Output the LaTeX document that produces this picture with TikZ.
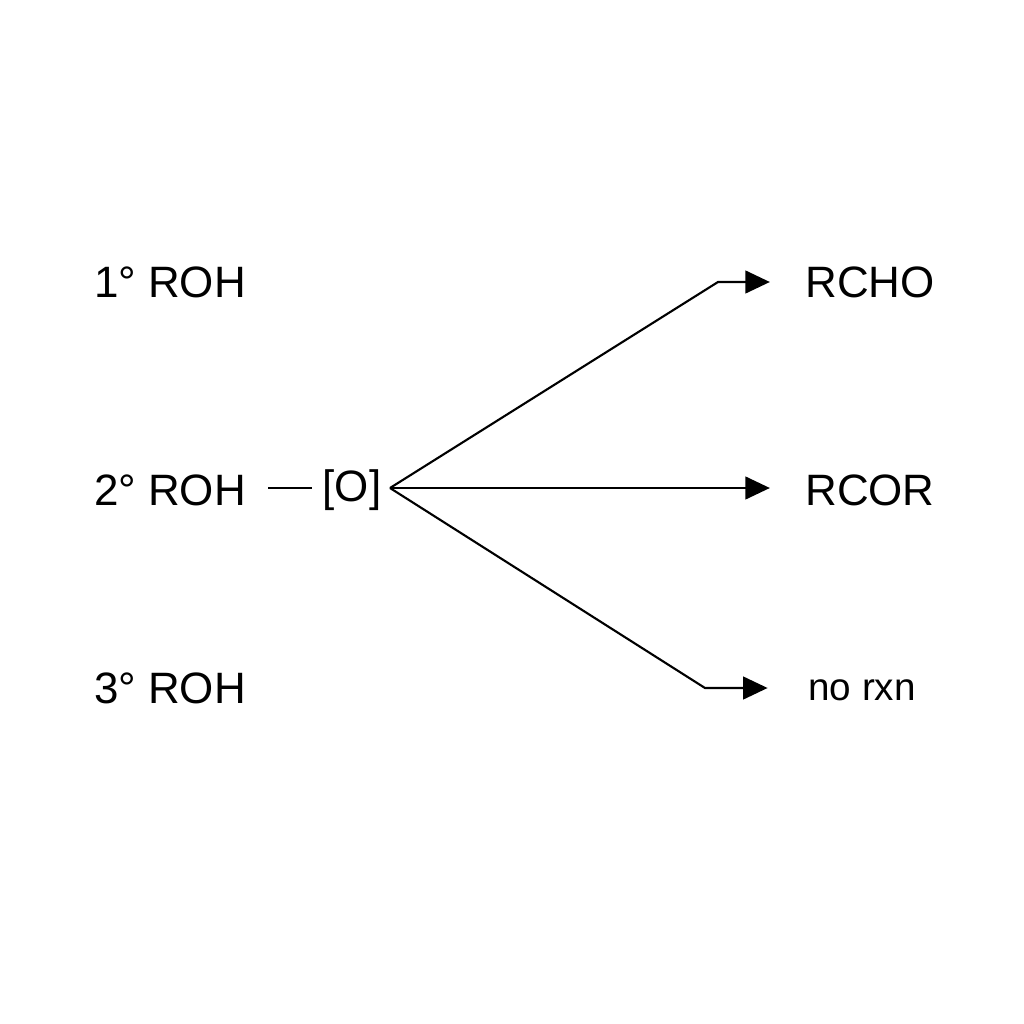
\documentclass[tikz,border=0pt]{standalone}
\usepackage{fontspec}
\setmainfont{Liberation Sans}
\usetikzlibrary{positioning, arrows.meta}
\begin{document}
\begin{tikzpicture}[x=0.02cm, y=-0.02cm,
	lbl/.style={font=\fontsize{25}{30}\selectfont, inner sep=0pt},
	prod/.style={font=\fontsize{25}{30}\selectfont, inner sep=0pt, anchor=west},
	rxn/.style={line width=1.2pt, -{Triangle[length=14pt, width=13pt]}}]
		
		%Frame
		\useasboundingbox (0,0) rectangle (1024,1024);
		
		%Alcohols
		\node[lbl] (prim) at (170,282) {1° ROH};
		\node[lbl] (sec) at (170,490) {2° ROH};
		\node[lbl] (tert) at (170,688) {3° ROH};
		
		%Oxidant
		\node[lbl] (ox) at (352,490) {[O]};
		\coordinate (dashA) at (268,488);
		\coordinate (dashB) at (312,488);
		\draw[line width=1.2pt] (dashA) -- (dashB);
		
		%Products
		\node[prod] (ald) at (805,282) {RCHO};
		\node[prod] (ket) at (805,490) {RCOR};
		\node[prod, font=\fontsize{22}{26}\selectfont] (none) at (808,690) {no rxn};
		
		%Arrows
		\coordinate (fork) at (390,488);
		\coordinate (bendA) at (718,282);
		\coordinate (bendC) at (705,688);
		\draw[rxn] (fork) -- (bendA) -- ([xshift=-20]bendA -| ald.west);
		\draw[rxn] (fork) -- ([xshift=-20]fork -| ket.west);
		\draw[rxn] (fork) -- (bendC) -- ([xshift=-23]bendC -| none.west);
		
\end{tikzpicture}
\end{document}
